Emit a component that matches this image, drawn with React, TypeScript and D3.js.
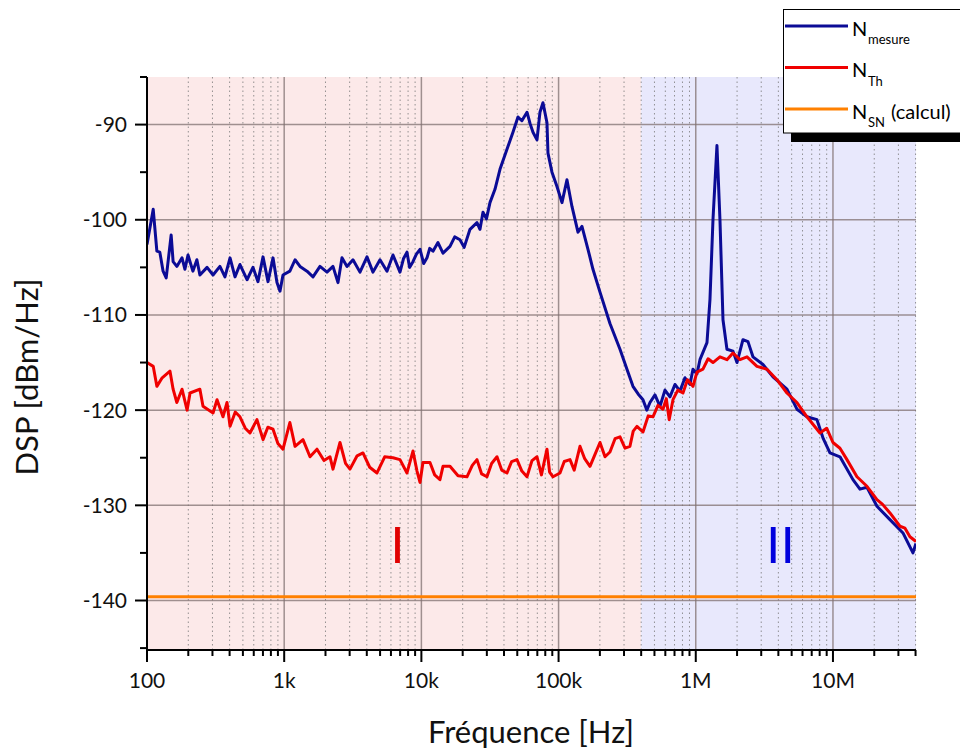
import React from 'react';
import * as d3 from 'd3';

const W = 960;
const H = 749;
const PLOT = { left: 147, right: 916, top: 77, bottom: 650 };

const X_DOMAIN: [number, number] = [100, 4.03e7];
const Y_DOMAIN: [number, number] = [-145.2, -85];
const X_MAJOR = [100, 1e3, 1e4, 1e5, 1e6, 1e7];
const X_LABELS = ['100', '1k', '10k', '100k', '1M', '10M'];
const Y_MAJOR = [-140, -130, -120, -110, -100, -90];
const Y_MINOR = [-145, -135, -125, -115, -105, -95, -85];
const REGION_BOUNDS = [100, 4e5, 4.03e7];
const SN_LEVEL = -139.6;
const MARKS = [
  { label: 'I', freq: 6.7e3, dsp: -136.1, kind: 'th' },
  { label: 'II', freq: 4.14e6, dsp: -136.1, kind: 'meas' },
];

// N_mesure : [frequency Hz, DSP dBm/Hz]
const MEASURE_POINTS: [number, number][] = [
  [100, -102.6], [111, -98.9], [118, -103.3], [124, -103.4], [131, -105.4], [138, -106.1], [150, -101.6],
  [155, -104.4], [165, -104.9], [180, -104.0], [189, -105.2], [199, -103.7], [216, -105.4], [231, -104.2],
  [243, -105.8], [274, -105.0], [303, -105.8], [340, -104.9], [370, -106.0], [403, -104.0], [438, -106.0],
  [476, -104.7], [536, -106.3], [592, -105.0], [644, -106.5], [701, -103.9], [762, -106.5], [829, -104.0],
  [886, -106.6], [932, -107.5], [980, -105.8], [1100, -105.4], [1200, -104.2], [1304, -104.9], [1466, -105.4],
  [1622, -106.0], [1824, -104.9], [2051, -105.5], [2268, -104.9], [2467, -106.6], [2638, -104.0], [2869, -104.9],
  [3173, -104.2], [3568, -105.5], [4013, -103.9], [4438, -105.5], [4993, -104.2], [5615, -105.4], [6209, -103.7],
  [6982, -105.5], [7400, -104.1], [7853, -103.4], [8200, -105.0], [8682, -104.4], [9200, -103.6], [9770, -103.1],
  [10400, -104.6], [10990, -104.0], [11500, -103.0], [12150, -103.3], [13210, -102.4],
  [14370, -103.5], [16160, -102.8], [17500, -101.8], [19110, -102.1], [20500, -102.9], [22610, -101.0],
  [25420, -100.3], [26740, -101.0], [28120, -99.2], [29800, -99.9], [31620, -98.2], [34390, -96.8], [37400, -94.7],
  [42060, -92.6], [46510, -90.8], [50590, -89.2], [54000, -89.6], [58860, -88.7], [62000, -89.9], [65100, -90.8],
  [69600, -91.6], [73170, -88.7], [76960, -87.7], [82310, -89.8], [83700, -93.0], [89510, -95.0], [97350, -96.5],
  [105900, -98.2], [115100, -95.8], [125200, -98.6], [138500, -101.3], [148100, -100.7], [163800, -103.1],
  [178100, -105.2], [200400, -107.6], [236900, -110.9], [280300, -113.6], [315100, -115.7], [348500, -117.5],
  [380000, -118.3], [412300, -118.9], [440000, -120.0], [463700, -119.2], [504300, -118.4], [548400, -119.6],
  [596400, -117.9], [648600, -118.6], [705300, -117.3], [767100, -118.0], [834100, -116.6], [907100, -117.3],
  [954100, -115.7], [1020000, -116.2], [1073000, -114.7], [1207000, -112.9], [1269000, -108.4], [1335000, -100.0],
  [1427000, -92.2], [1501000, -100.0], [1579000, -110.5], [1688000, -113.6], [1867000, -113.8], [1997000, -115.0],
  [2208000, -112.6], [2402000, -112.8], [2612000, -114.4], [3089000, -115.2], [3654000, -116.5], [4620000, -117.8],
  [5465000, -119.9], [6464000, -120.7], [7645000, -121.0], [8500000, -123.0], [9508000, -124.5], [11250000, -124.9],
  [13990000, -127.3], [15730000, -128.3], [17690000, -128.1], [20930000, -130.1], [26030000, -131.5],
  [32380000, -132.9], [38290000, -135.0], [40270000, -134.0],
];

// N_Th : [frequency Hz, DSP dBm/Hz]
const THERMAL_POINTS: [number, number][] = [
  [100, -115.0], [111, -115.4], [118, -117.5], [129, -116.6], [147, -115.9], [155, -117.8], [165, -119.2],
  [180, -117.8], [196, -120.0], [206, -118.2], [243, -117.8], [256, -119.6], [303, -120.3], [324, -118.9],
  [358, -120.7], [383, -119.2], [403, -121.7], [440, -120.2], [476, -120.7], [520, -121.9], [563, -122.4],
  [633, -121.0], [701, -123.1], [760, -121.8], [829, -122.0], [900, -123.5], [980, -124.1], [1100, -121.3],
  [1200, -123.8], [1371, -123.1], [1542, -124.9], [1734, -124.1], [1950, -125.3], [2158, -124.9], [2268, -126.2],
  [2551, -123.4], [2800, -125.6], [3017, -126.2], [3400, -124.8], [3752, -124.5], [4200, -126.0], [4747, -126.6],
  [5400, -124.9], [6209, -125.0], [6982, -125.2], [7853, -126.6], [8682, -124.3], [9290, -126.4], [9770, -127.6],
  [10270, -125.5], [11550, -125.5], [12500, -126.8], [13660, -127.3], [14370, -125.9], [16160, -125.9],
  [18500, -126.9], [21490, -127.0], [23500, -125.8], [25420, -125.2], [27500, -126.7], [30070, -127.0],
  [32500, -125.6], [35560, -124.9], [38500, -126.3], [42060, -126.6], [45500, -125.4], [49750, -125.2],
  [54000, -126.4], [58860, -127.0], [64000, -125.3], [69600, -124.9], [75000, -126.8], [82310, -124.1],
  [86000, -126.5], [91050, -127.0], [102400, -126.6], [110000, -125.4], [121100, -125.2], [130000, -126.3],
  [143200, -123.8], [155000, -125.1], [169400, -125.9], [185000, -124.6], [200400, -123.4], [218000, -124.9],
  [236900, -124.4], [258000, -123.0], [280300, -122.8], [305000, -124.0], [331400, -123.8], [350000, -122.2],
  [372700, -121.7], [412300, -122.3], [450000, -120.6], [487600, -120.7], [530000, -119.5], [576700, -119.9],
  [610000, -118.8], [640000, -121.0], [682200, -118.9], [740000, -117.9], [806600, -118.2], [870000, -116.8],
  [954100, -117.5], [1020000, -116.0], [1128000, -115.7], [1230000, -114.6], [1335000, -115.0], [1501000, -114.4],
  [1688000, -114.7], [1867000, -114.0], [2100000, -114.7], [2362000, -114.4], [2793000, -115.4], [3304000, -115.7],
  [3906000, -116.8], [4620000, -118.2], [5465000, -119.2], [6464000, -120.7], [8036000, -122.4], [9000000, -121.9],
  [10000000, -123.4], [11250000, -124.0], [12650000, -125.2], [14960000, -127.0], [17690000, -128.0],
  [20930000, -129.4], [23000000, -129.9], [26030000, -130.8], [30790000, -132.2], [33500000, -132.4],
  [36410000, -133.3], [40270000, -133.8],
];

const LEGEND = [
  { main: 'N', sub: 'mesure', tail: '', color: '#0b0b96' },
  { main: 'N', sub: 'Th', tail: '', color: '#f00000' },
  { main: 'N', sub: 'SN', tail: '(calcul)', color: '#ff8000' },
];

const FONT = 'Lato, "Open Sans", sans-serif';

export default function App() {
  const x = d3.scaleLog().domain(X_DOMAIN).range([PLOT.left, PLOT.right]);
  const y = d3.scaleLinear().domain(Y_DOMAIN).range([PLOT.bottom, PLOT.top]);

  const line = d3
    .line<[number, number]>()
    .x((d) => x(d[0]))
    .y((d) => y(d[1]));

  const minorX: number[] = [];
  X_MAJOR.forEach((dec) => {
    for (let k = 2; k <= 9; k++) {
      const f = k * dec;
      if (f <= X_DOMAIN[1] * 1.001) minorX.push(f);
    }
  });

  const snLine: [number, number][] = [
    [X_DOMAIN[0], SN_LEVEL],
    [X_DOMAIN[1], SN_LEVEL],
  ];

  return (
    <svg
      width={W}
      height={H}
      style={{ position: 'absolute', left: 0, top: 0, background: '#fff' }}
      fontFamily={FONT}
    >
      <defs>
        <clipPath id="plotClip">
          <rect x={PLOT.left} y={PLOT.top} width={PLOT.right - PLOT.left} height={PLOT.bottom - PLOT.top} />
        </clipPath>
      </defs>
      {/* background regions */}
      <rect
        x={x(REGION_BOUNDS[0])}
        y={PLOT.top}
        width={x(REGION_BOUNDS[1]) - x(REGION_BOUNDS[0])}
        height={PLOT.bottom - PLOT.top}
        fill="#fce9e9"
      />
      <rect
        x={x(REGION_BOUNDS[1])}
        y={PLOT.top}
        width={x(REGION_BOUNDS[2]) - x(REGION_BOUNDS[1])}
        height={PLOT.bottom - PLOT.top}
        fill="#e8e8fc"
      />
      {/* minor grid */}
      {minorX.map((f, i) => (
        <line
          key={'mx' + i}
          x1={x(f)}
          x2={x(f)}
          y1={PLOT.top}
          y2={PLOT.bottom}
          stroke="#7a7a7a"
          strokeOpacity={0.8}
          strokeWidth={1}
          strokeDasharray="1.5,3"
        />
      ))}
      {/* major grid */}
      {X_MAJOR.map((f, i) => (
        <line key={'gx' + i} x1={x(f)} x2={x(f)} y1={PLOT.top} y2={PLOT.bottom} stroke="#807070" strokeOpacity={0.75} strokeWidth={1.5} />
      ))}
      {Y_MAJOR.map((v, i) => (
        <line key={'gy' + i} x1={PLOT.left} x2={PLOT.right} y1={y(v)} y2={y(v)} stroke="#807070" strokeOpacity={0.75} strokeWidth={1.5} />
      ))}
      {/* curves */}
      <g clipPath="url(#plotClip)" fill="none" strokeLinejoin="round">
        <path d={line(snLine) || ''} stroke="#ff8000" strokeWidth={3} />
        <path d={line(MEASURE_POINTS) || ''} stroke="#0b0b96" strokeWidth={3} />
        <path d={line(THERMAL_POINTS) || ''} stroke="#f00000" strokeWidth={3} />
      </g>
      {/* region marks */}
      {MARKS.map((m, i) => (
        <text
          key={'mk' + i}
          x={x(m.freq)}
          y={y(m.dsp)}
          textAnchor="middle"
          fontFamily='"DejaVu Sans", sans-serif'
          fontSize={49}
          fill={m.kind === 'th' ? '#e00000' : '#0000dd'}
        >
          {m.label}
        </text>
      ))}
      {/* axes */}
      <line x1={PLOT.left} x2={PLOT.left} y1={PLOT.top} y2={PLOT.bottom + 1} stroke="#000" strokeWidth={2} />
      <line x1={PLOT.left - 1} x2={PLOT.right} y1={PLOT.bottom} y2={PLOT.bottom} stroke="#000" strokeWidth={2} />
      {Y_MAJOR.map((v, i) => (
        <g key={'yt' + i}>
          <line x1={PLOT.left - 12} x2={PLOT.left} y1={y(v)} y2={y(v)} stroke="#000" strokeWidth={2} />
          <text x={127} y={y(v) + 7.5} textAnchor="end" fontSize={21} fill="#111">
            {v}
          </text>
        </g>
      ))}
      {Y_MINOR.map((v, i) => (
        <line key={'ym' + i} x1={PLOT.left - 7} x2={PLOT.left} y1={y(v)} y2={y(v)} stroke="#000" strokeWidth={2} />
      ))}
      {X_MAJOR.map((f, i) => (
        <g key={'xt' + i}>
          <line x1={x(f)} x2={x(f)} y1={PLOT.bottom} y2={PLOT.bottom + 12} stroke="#000" strokeWidth={2} />
          <text x={x(f)} y={688} textAnchor="middle" fontSize={21} fill="#111">
            {X_LABELS[i]}
          </text>
        </g>
      ))}
      {minorX.map((f, i) => (
        <line key={'xm' + i} x1={x(f)} x2={x(f)} y1={PLOT.bottom} y2={PLOT.bottom + 6} stroke="#000" strokeWidth={2} />
      ))}
      {/* axis titles */}
      <text x={531} y={743} textAnchor="middle" fontSize={31} fill="#111">
        Fréquence [Hz]
      </text>
      <text transform="translate(38,377) rotate(-90)" textAnchor="middle" fontSize={31} fill="#111">
        DSP [dBm/Hz]
      </text>
      {/* legend */}
      <rect x={791} y={133} width={200} height={9} fill="#000" />
      <rect x={783.5} y={9.5} width={200} height={123.5} fill="#fff" stroke="#000" strokeWidth={1} />
      {LEGEND.map((e, i) => {
        const cy = 26 + i * 41.5;
        return (
          <g key={'lg' + i}>
            <line x1={785} x2={848} y1={cy} y2={cy} stroke={e.color} strokeWidth={3} />
            <text x={852} y={cy + 9.5} fontSize={20} fill="#000">
              {e.main}
            </text>
            <text x={868} y={cy + 18} fontSize={13} fill="#000">
              {e.sub}
            </text>
            {e.tail && (
              <text x={891} y={cy + 9.5} fontSize={20} fill="#000">
                {e.tail}
              </text>
            )}
          </g>
        );
      })}
    </svg>
  );
}
